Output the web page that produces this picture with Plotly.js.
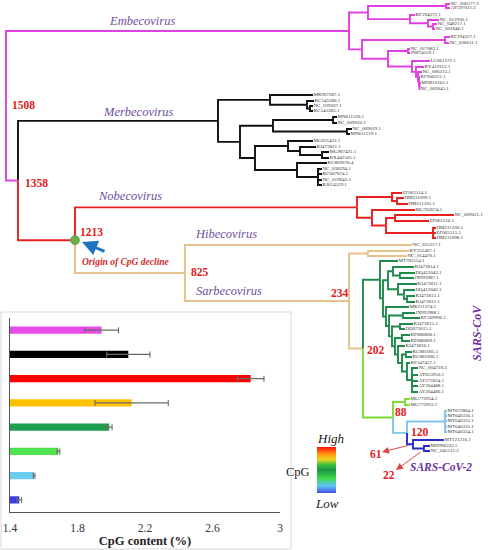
<!DOCTYPE html>
<html><head><meta charset="utf-8">
<script src="https://cdn.plot.ly/plotly-3.0.1.min.js"></script>
<style>html,body{margin:0;padding:0;background:#fff}</style>
</head><body><div id="chart" style="width:488px;height:550px"></div>
<script>
// ---------- Tree data: newick with absolute node depth (x) ----------
const embecoNewick = "((((NC_006577.2:450,AY597011.2:450)e1:446,(KF294372.1:415,(NC_012936.1:439,(NC_048217.1:437,NC_001846.1:435)e4:433)e3:428)e2:410)ea:368,((KF294357.1:450,NC_026011.1:449)eb1:445,((NC_017083.1:410,JN874559.1:410)eb3:408,(LC061272.1:430,(KY419112.1:424,(NC_006213.1:422,(KF906251.1:420,(MH810163.1:421,NC_003045.1:420)e8:419.5)e7:419)e6:418)e5:416)eb4:412)eb2:388)eb:362)Embeco:349";
const merbecoNewick = "((MK907287.1:313,(KC545386.1:314,(NC_039207.1:313,KC545383.1:313)mj:310)mi:307)mg:270,(((MN611520.1:337,NC_009020.1:337)ml:333,(NC_009019.1:352,MN611519.1:350)mm:347)mk:273,((MG021452.1:313,(KJ473821.1:316,(MG987421.1:329,KX442565.1:329)me:322)md:300)mb:288,(KC869678.4:327,(NC_038294.1:322,KC667074.1:322,NC_019843.3:322,KJ614529.1:322)mf:318)mc:297)ma:255)mh:240)Merbeco:218";
const nobecoNewick = "((EF065514.1:402,(HM211099.1:404,HM211101.1:408)nb1s:397)nb1:392,(MG762674.1:415,((NC_009021.1:454,EF065516.1:429)nb4:395,(HM211100.1:436,EF065515.1:436,HM211098.1:436)nb5:433)nb3:386)nb2:372)Nobeco:357";
const sarsCovNewick = "(MT782114.1:398,(((KJ473814.1:414,(DQ412043.1:415,JX993987.1:414)c1as:400)c1a:393,(KJ473811.1:417,(DQ412042.1:415,(KJ473813.1:415,KJ473812.1:415)c1bs2:407)c1bs:404)c1b:398)c1:388,(MK211374.1:409,((JX993988.1:415,KF569996.1:420)njk:403,((KJ473815.1:413,DQ071615.1:405)n4c:400,((KP886808.1:410,KP886809.1:410)n5c:402,(KJ473816.1:405,((KC881005.1:412,KC881006.1:412)n7c:406,(KP347457.1:410,(NC_004718.3:418,AY613950.1:418,AY572034.1:418,AY304488.1:418,AY304486.1:418)n9:412)n8:407)n7:402)n6:398)n5:395)n4:392)n3:389)n2:386)n1:383)SC:380";
const n88Newick = "((MG772934.1:410,MG772933.1:410)lg:405,((MT072864.1:447,MT040336.1:447,MT040333.1:447,MT040335.1:447,MT040334.1:447)pang:445,(MT121216.1:444,(MN996532.1:430,NC_045512.2:430)s2:424)R:413)Q:407)N88:393";
const sarbecoNewick = "((KY352407.1:409,NC_014470.1:407)sx:368,(" + sarsCovNewick + "," + n88Newick + ")N202:363)N234:349";
const treeNewick = "(" + embecoNewick + ",(" + merbecoNewick + ",(" + nobecoNewick + ",(NC_025217.1:412," + sarbecoNewick + ")N825:185)N1213:75)N1358:18)root:6";

// leaf vertical positions, in newick order
const leafYEmbeco = [4,8,15,20,24,29,37,43,49,53,61,67,72,77,83,89];
const leafYMerbeco = [95,101,106,111,117,123,129,134,141,147,152,158,163,169,174,180,185];
const leafYNobeco = [193,198,204,210,215,221,228,233,238];
const leafYHibeco = [245];
const leafYSarbeco = [251,256];
const leafYSarsCov = [261,267,273,278,284,290,296,302,307,313,318,324,329,335,341,346,352,357,363,368,375,381,386,392];
const leafYBatSL = [399,405];
const leafYPangolin = [411,416,421,427,432];
const leafYSarsCov2 = [440,446,451];

const nodeColors = {
  root:'#111111', Embeco:'#E040E0', N1358:'#E040E0', Merbeco:'#111111',
  N1213:'#E8201E', N825:'#E6C28C', N202:'#E6C28C', SC:'#1E8A4C',
  N88:'#7CDB3A', Q:'#7FC6EE', R:'#2A2ACF'
};

// ---------- Bar inset data ----------
const barGroups = ['Embecovirus','Merbecovirus','Nobecovirus','Hibeco/Sarbeco','SARS-CoV','Bat SL-CoV','Pangolin-CoV','SARS-CoV-2'];
const cpgContent = [1.943, 2.101, 2.826, 2.121, 1.988, 1.687, 1.543, 1.455];
const cpgError   = [0.100, 0.128, 0.079, 0.217, 0.017, 0.008, 0.005, 0.014];
const barColors  = ['#E84CE8','#000000','#FF0000','#FFC000','#1E9E4F','#4FE34F','#6CCDF0','#3D3DE0'];
const cpgTicks = [1.4, 1.8, 2.2, 2.6, 3];

// ---------- parse tree ----------
function parseNewick(str){
  const s = str.replace(/\s+/g,'');
  let i = 0;
  function node(){
    const n = {children:[]};
    if (s[i] === '('){
      i++;
      n.children.push(node());
      while (s[i] === ','){ i++; n.children.push(node()); }
      i++;
    }
    let name = '';
    while (i < s.length && !':,()'.includes(s[i])) name += s[i++];
    n.name = name;
    if (s[i] === ':'){ i++; let num=''; while (i < s.length && !',()'.includes(s[i])) num += s[i++]; n.x = parseFloat(num); }
    return n;
  }
  return node();
}
const leafY = [].concat(leafYEmbeco, leafYMerbeco, leafYNobeco, leafYHibeco, leafYSarbeco, leafYSarsCov, leafYBatSL, leafYPangolin, leafYSarsCov2);
const tree = parseNewick(treeNewick);
let leafIdx = 0;
const leaves = [];
const nodesByName = {};
function layout(n, parentColor){
  n.color = nodeColors[n.name] || parentColor;
  nodesByName[n.name] = n;
  if (!n.children.length){ n.y = leafY[leafIdx++]; leaves.push(n); }
  else {
    n.children.forEach(c => layout(c, n.color));
    n.y = (n.children[0].y + n.children[n.children.length-1].y) / 2;
  }
}
layout(tree, '#111111');

const segs = {};
function addSeg(color, pts){
  if (!segs[color]) segs[color] = {x:[], y:[]};
  pts.forEach(p => { segs[color].x.push(p[0]); segs[color].y.push(p[1]); });
  segs[color].x.push(null); segs[color].y.push(null);
}
addSeg(tree.color, [[2, tree.y],[tree.x, tree.y]]);
(function walk(n){
  n.children.forEach(c => {
    addSeg(c.color, [[n.x, n.y],[n.x, c.y],[c.x, c.y]]);
    walk(c);
  });
})(tree);

const traces = [];
Object.keys(segs).forEach(col => {
  traces.push({type:'scatter', mode:'lines', x:segs[col].x, y:segs[col].y, xaxis:'x', yaxis:'y',
    line:{color:col, width:1.9}, hoverinfo:'skip', showlegend:false});
});
traces.push({type:'scatter', mode:'text', x:leaves.map(l=>l.x+0.5), y:leaves.map(l=>l.y),
  text:leaves.map(l=>l.name), textposition:'middle right',
  textfont:{family:'Liberation Serif, serif', size:5, color:'#333'}, hoverinfo:'skip', showlegend:false, cliponaxis:false});
const n1213 = nodesByName['N1213'];
traces.push({type:'scatter', mode:'markers', x:[n1213.x], y:[n1213.y],
  marker:{size:9, color:'#6AAE4A', line:{color:'#4C8A36', width:0.6}}, hoverinfo:'skip', showlegend:false});
// gradient legend
traces.push({type:'scatter', mode:'markers', x:[-100], y:[-100], hoverinfo:'skip', showlegend:false,
  marker:{color:[0.5], cmin:0, cmax:1, opacity:0, showscale:true,
    colorscale:[[0,'#3F4FE0'],[0.16,'#5EC8F2'],[0.32,'#3FD84A'],[0.5,'#1B9446'],[0.62,'#3CC23C'],[0.72,'#E8D820'],[0.84,'#FF9A10'],[1,'#FF1010']],
    colorbar:{x:317/488, xanchor:'left', y:1-470/550, yanchor:'middle', lenmode:'pixels', len:46,
      thicknessmode:'pixels', thickness:19, outlinewidth:0, showticklabels:false, ticks:'', xpad:0, ypad:0, borderwidth:0}}});

// bar chart
const yIdx = barGroups.map((g,i)=>i);
traces.push({type:'bar', orientation:'h', x:cpgContent, y:yIdx, xaxis:'x2', yaxis:'y2', width:0.3,
  marker:{color:barColors}, error_x:{type:'data', array:cpgError, visible:true, color:'#6a6a6a', thickness:1.1, width:3},
  text:barGroups, textposition:'none', hoverinfo:'x+text', showlegend:false});

const purple = '#6F4E9E';
const red = '#E02020';
function clade(t, x, y){ return {text:'<i>'+t+'</i>', x:x, y:y, xref:'x', yref:'y', showarrow:false, font:{family:'Liberation Serif, serif', size:12.5, color:purple}}; }
function num(t, x, y){ return {text:'<b>'+t+'</b>', x:x, y:y, xref:'x', yref:'y', xanchor:'left', showarrow:false, font:{family:'Liberation Serif, serif', size:11.5, color:red}}; }
const annotations = [
  clade('Embecovirus',142,21), clade('Merbecovirus',138,112), clade('Nobecovirus',130,196),
  clade('Hibecovirus',226,234), clade('Sarbecovirus',229,291),
  num('1508',10,105), num('1358',23,183), num('1213',78,232), num('825',189,272),
  num('234',329,293), num('202',365,350), num('88',393,412), num('120',409,432),
  num('61',368,454), num('22',381,475),
  {text:'<b><i>Origin of CpG decline</i></b>', x:80, y:262, xref:'x', yref:'y', xanchor:'left', showarrow:false,
    font:{family:'Liberation Serif, serif', size:9.5, color:'#D42A2A'}},
  {text:'<b><i>SARS-CoV</i></b>', x:477, y:333, xref:'x', yref:'y', textangle:-90, showarrow:false,
    font:{family:'Liberation Serif, serif', size:12, color:'#7030A0'}},
  {text:'<b><i>SARS-CoV-2</i></b>', x:441, y:467, xref:'x', yref:'y', showarrow:false,
    font:{family:'Liberation Serif, serif', size:11.5, color:'#7030A0'}},
  {text:'', x:82, y:242, ax:106, ay:252, xref:'x', yref:'y', axref:'x', ayref:'y', showarrow:true,
    arrowhead:2, arrowsize:1.1, arrowwidth:2.8, arrowcolor:'#1F74C4'},
  {text:'', x:382, y:452, ax:410, ay:445, xref:'x', yref:'y', axref:'x', ayref:'y', showarrow:true,
    arrowhead:2, arrowsize:1.4, arrowwidth:1, arrowcolor:'#D84848'},
  {text:'', x:396, y:470, ax:422, ay:451, xref:'x', yref:'y', axref:'x', ayref:'y', showarrow:true,
    arrowhead:2, arrowsize:1.4, arrowwidth:1, arrowcolor:'#D84848'},
  {text:'<i>High</i>', x:330, y:438, xref:'x', yref:'y', showarrow:false, font:{family:'Liberation Serif, serif', size:13, color:'#222'}},
  {text:'<i>Low</i>', x:327, y:503, xref:'x', yref:'y', showarrow:false, font:{family:'Liberation Serif, serif', size:13, color:'#222'}},
  {text:'CpG', x:298, y:472, xref:'x', yref:'y', showarrow:false, font:{family:'Liberation Serif, serif', size:12.5, color:'#222'}}
];

const layoutObj = {
  width:488, height:550, margin:{l:0,r:0,t:0,b:0}, paper_bgcolor:'#fff', plot_bgcolor:'rgba(0,0,0,0)',
  showlegend:false,
  xaxis:{domain:[0,1], range:[0,488], visible:false, fixedrange:true},
  yaxis:{domain:[0,1], range:[550,0], visible:false, fixedrange:true},
  xaxis2:{domain:[10/488, 280/488], range:[1.4,3], anchor:'y2', tickvals:cpgTicks, ticktext:cpgTicks.map(String),
    showline:true, linecolor:'#555', linewidth:1, ticks:'', showgrid:false, zeroline:false, ticklabelstandoff:5,
    tickfont:{family:'Liberation Serif, serif', size:11.5, color:'#333'},
    title:{text:'<b>CpG content (%)</b>', font:{family:'Liberation Serif, serif', size:12.5, color:'#222'}, standoff:3}},
  yaxis2:{domain:[1-512/550, 1-318/550], range:[7.5,-0.5], anchor:'x2', showline:true, linecolor:'#555', linewidth:1,
    showticklabels:false, ticks:'', showgrid:false, zeroline:false},
  shapes:[{type:'rect', xref:'paper', yref:'paper', x0:1/488, x1:291/488, y0:1/550, y1:1-312/550,
    line:{color:'#d8d8d8', width:1}, fillcolor:'rgba(0,0,0,0)', layer:'below'}],
  annotations:annotations
};
Plotly.newPlot('chart', traces, layoutObj, {displayModeBar:false, staticPlot:true});
</script></body></html>
